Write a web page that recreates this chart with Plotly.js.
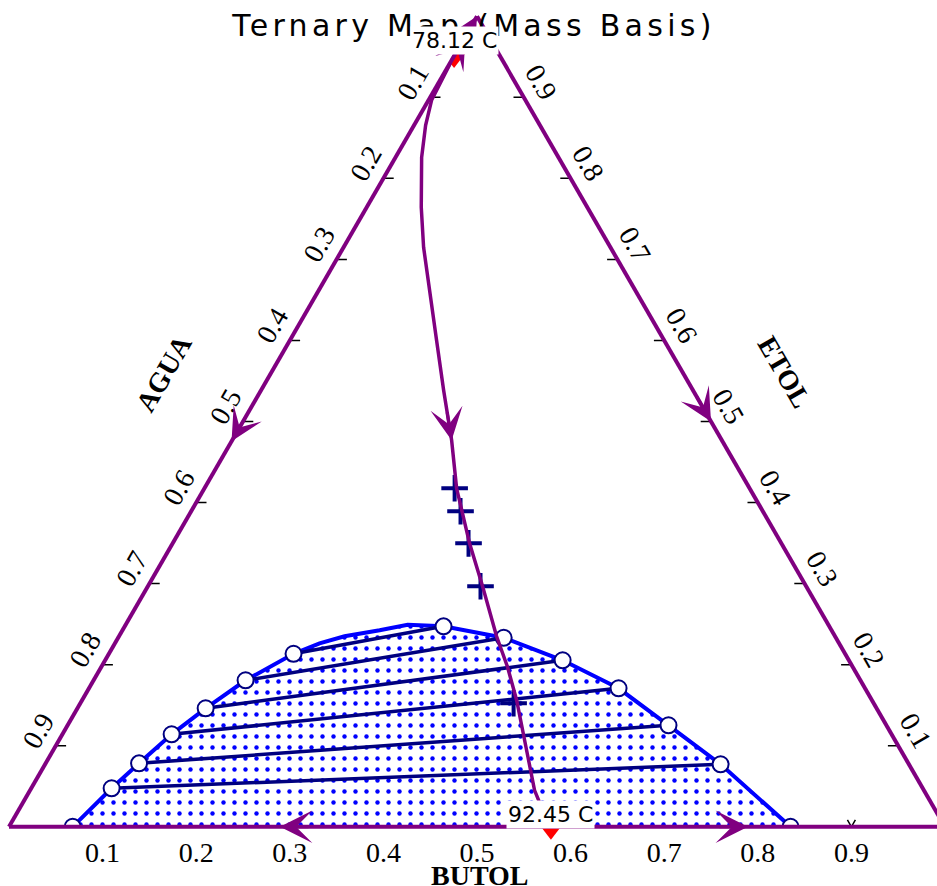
<!DOCTYPE html>
<html><head><meta charset="utf-8">
<script src="https://cdn.plot.ly/plotly-3.0.1.min.js"></script>
<style>html,body{margin:0;padding:0;overflow:hidden;background:#fff}#chart{width:945px;height:886px}</style>
</head><body><div id="chart"></div>
<script>
// Mass fractions. Ternary mapping: a = ETOL (top), b = AGUA (bottom-left), c = BUTOL (bottom-right)
const tickValues = [0.1, 0.2, 0.3, 0.4, 0.5, 0.6, 0.7, 0.8, 0.9];
const tickText = ["0.1", "0.2", "0.3", "0.4", "0.5", "0.6", "0.7", "0.8", "0.9"];

// LLE envelope: water-rich (left) and butanol-rich (right) tie-line ends
const envLeftETOL  = [0.000, 0.0475, 0.0783, 0.1141, 0.1462, 0.1807, 0.2134];
const envLeftBUTOL = [0.068, 0.0859, 0.0998, 0.1167, 0.1370, 0.1624, 0.1973];
const envRightETOL  = [0.000, 0.0771, 0.1252, 0.1709, 0.2054, 0.2332, 0.2473];
const envRightBUTOL = [0.835, 0.7217, 0.6420, 0.5658, 0.4888, 0.4119, 0.3406];
// envelope points between the last left end and the top end (no markers)
const envTopETOL  = [0.2264, 0.2350, 0.2424, 0.2492];
const envTopBUTOL = [0.2186, 0.2410, 0.2748, 0.3013];

// distillation boundary from 78.12 C azeotrope to 92.45 C azeotrope
const boundaryETOL  = [0.951, 0.8963, 0.8654, 0.8259, 0.7643, 0.7149, 0.6532, 0.6002, 0.5385, 0.4768, 0.4176, 0.3497, 0.2967, 0.2350, 0.1968, 0.1561, 0.0944, 0.0450, 0.0204, 0.000];
const boundaryBUTOL = [0.000, 0.0033, 0.0124, 0.0279, 0.0583, 0.0855, 0.1238, 0.1567, 0.1951, 0.2345, 0.2694, 0.3172, 0.3576, 0.4034, 0.4343, 0.4643, 0.5058, 0.5390, 0.5600, 0.579];
const boundaryArrowIndex = 9;

// "+" points
const plusETOL  = [0.4176, 0.3892, 0.3497, 0.2967, 0.1524];
const plusBUTOL = [0.2673, 0.2878, 0.3161, 0.3554, 0.4629];

// azeotropes
const azeoLabels = ["78.12 C", "92.45 C"];
const azeoETOL  = [0.951, 0.000];
const azeoBUTOL = [0.000, 0.579];

// edge residue-curve segments (from -> to), arrows at midpoints
const segFromETOL  = [0.951, 0.951, 1.0, 0.0, 0.0];
const segFromBUTOL = [0.0,   0.0,   0.0, 0.579, 0.579];
const segToETOL    = [1.0,   0.0,   0.0, 0.0, 0.0];
const segToBUTOL   = [0.0,   0.0,   1.0, 0.0, 1.0];

const PURPLE = '#800080', NAVY = '#000080', BLUE = '#0000ff';
const agua = (e, c) => e.map((v, i) => (v === null ? null : 1 - v - c[i]));

// geometry: plot area exactly holds the equilateral triangle; an invisible
// cartesian overlay (x,y in [0,1]) shares the same area for the patterned fill
const PLOT_W = 936, PLOT_H = 811, TRI_H = PLOT_W * Math.sqrt(3) / 2;
function toPaper(e, c) { return {x: c + e / 2, y: ((PLOT_H - TRI_H) / 2 + e * TRI_H) / PLOT_H}; }
function arrowAnn(tipE, tipC, fromE, fromC, len, color, width, size) {
  const p = toPaper(tipE, tipC), q = toPaper(fromE, fromC);
  let dx = (q.x - p.x) * PLOT_W, dy = -(q.y - p.y) * PLOT_H;
  const d = Math.hypot(dx, dy); dx = dx / d * len; dy = dy / d * len;
  return {xref: 'paper', yref: 'paper', x: p.x, y: p.y, ax: dx, ay: dy, axref: 'pixel', ayref: 'pixel',
          text: '', showarrow: true, arrowhead: 3, arrowsize: size, arrowwidth: width, arrowcolor: color, standoff: 0};
}

// tick marks (left and right edges, horizontal, pointing inward)
const TD = 0.011;
const tkA = [], tkB = [], tkC = [];
tickValues.forEach(t => {
  tkA.push(1 - t, 1 - t, null); tkB.push(t, t - TD, null); tkC.push(0, TD, null);
});
tickValues.forEach(v => {
  tkA.push(v, v, null); tkB.push(0, TD, null); tkC.push(1 - v, 1 - v - TD, null);
});
// bottom ticks (two short arms), drawn under the patterned fill
const BD = 0.0085;
const btX = [], btY = [];
tickValues.forEach(t => {
  const p0 = toPaper(0, t), p1 = toPaper(BD, t - BD), p2 = toPaper(BD, t);
  btX.push(p1.x, p0.x, p2.x, null); btY.push(p1.y, p0.y, p2.y, null);
});

// envelope polygon
const envE = [...envLeftETOL, ...envTopETOL, ...envRightETOL.slice().reverse()];
const envC = [...envLeftBUTOL, ...envTopBUTOL, ...envRightBUTOL.slice().reverse()];
const envXY = envE.map((e, i) => toPaper(e, envC[i]));

// tie lines
const tieA = [], tieB = [], tieC = [];
envLeftETOL.forEach((e, i) => {
  tieA.push(e, envRightETOL[i], null);
  tieC.push(envLeftBUTOL[i], envRightBUTOL[i], null);
  tieB.push(1 - e - envLeftBUTOL[i], 1 - envRightETOL[i] - envRightBUTOL[i], null);
});

const mkE = [...envLeftETOL, ...envRightETOL];
const mkC = [...envLeftBUTOL, ...envRightBUTOL];

const traces = [
  {type: 'scatter', mode: 'lines', x: btX, y: btY, line: {color: 'black', width: 1.5}, hoverinfo: 'skip'},
  {type: 'scatter', mode: 'none', x: envXY.map(p => p.x), y: envXY.map(p => p.y), fill: 'toself',
   fillcolor: 'white', fillpattern: {shape: '.', fgcolor: BLUE, bgcolor: 'white', size: 11, solidity: 0.13}},
  {type: 'scatterternary', mode: 'lines', a: tkA, b: tkB, c: tkC, line: {color: 'black', width: 1.5}, hoverinfo: 'skip'},
  {type: 'scatterternary', mode: 'lines', a: envE, b: agua(envE, envC), c: envC, line: {color: BLUE, width: 4}},
  {type: 'scatterternary', mode: 'lines', a: tieA, b: tieB, c: tieC, line: {color: NAVY, width: 3.5}},
  {type: 'scatterternary', mode: 'markers', a: mkE, b: agua(mkE, mkC), c: mkC,
   marker: {symbol: 'circle', size: 16, color: 'white', line: {color: NAVY, width: 2}}},
  {type: 'scatterternary', mode: 'markers', a: plusETOL, b: agua(plusETOL, plusBUTOL), c: plusBUTOL,
   marker: {symbol: 'cross-thin', size: 19, line: {color: NAVY, width: 4}}},
  {type: 'scatterternary', mode: 'lines', a: boundaryETOL, b: agua(boundaryETOL, boundaryBUTOL), c: boundaryBUTOL,
   line: {color: PURPLE, width: 3.5}},
  {type: 'scatterternary', mode: 'markers', a: [azeoETOL[0]], b: [1 - azeoETOL[0] - azeoBUTOL[0]], c: [azeoBUTOL[0]],
   marker: {symbol: 'triangle-down', size: 24, color: 'red'}},
  {type: 'scatterternary', mode: 'markers', cliponaxis: false, a: [azeoETOL[1]], b: [1 - azeoETOL[1] - azeoBUTOL[1]], c: [azeoBUTOL[1]],
   marker: {symbol: 'triangle-down', size: 26, color: 'red'}}
];

const tickFont = {family: 'Liberation Serif, Times New Roman, serif', size: 28, color: 'black'};
const axisCommon = {
  showgrid: false, showline: true, linecolor: PURPLE, linewidth: 4, ticks: '',
  tickmode: 'array', tickvals: tickValues.map(t => 1 - t), ticktext: tickText,
  tickfont: tickFont, title: {text: ''}
};

const annotations = [];
segFromETOL.forEach((fe, i) => {
  const me = (fe + segToETOL[i]) / 2, mc = (segFromBUTOL[i] + segToBUTOL[i]) / 2;
  annotations.push(arrowAnn(me, mc, fe, segFromBUTOL[i], 30, PURPLE, 3, 1.8));
});
annotations.push(arrowAnn(1.0, 0.0, 0.951, 0.0, 20, PURPLE, 3, 1.6));
const k = boundaryArrowIndex;
annotations.push(arrowAnn(boundaryETOL[k], boundaryBUTOL[k], boundaryETOL[k - 1], boundaryBUTOL[k - 1], 30, PURPLE, 3, 1.8));
azeoLabels.forEach((t, i) => {
  const p = toPaper(azeoETOL[i], azeoBUTOL[i]);
  annotations.push({xref: 'paper', yref: 'paper', x: p.x, y: p.y, yshift: i === 0 ? 15 : 12, text: t, showarrow: false,
    bgcolor: 'white', borderpad: 1, xanchor: 'center', yanchor: 'middle',
    font: {family: 'DejaVu Sans', size: 22, color: 'black'}});
});
const titleFont = {family: 'Liberation Serif', size: 28, color: 'black'};
const axTitle = {xref: 'paper', yref: 'paper', showarrow: false, xanchor: 'center', yanchor: 'middle', font: titleFont};
annotations.push(Object.assign({}, axTitle, {x: 0.1656, y: 0.5586, text: '<b>AGUA</b>', textangle: -60}));
annotations.push(Object.assign({}, axTitle, {x: 0.829, y: 0.561, text: '<b>ETOL</b>', textangle: 60}));
annotations.push(Object.assign({}, axTitle, {x: 0.503, y: -0.0604, text: '<b>BUTOL</b>'}));

const layout = {
  width: 945, height: 886,
  margin: {l: 9, r: 0, t: 16, b: 59, pad: 0},
  font: {family: 'Liberation Serif', size: 24, color: 'black'},
  paper_bgcolor: 'white', plot_bgcolor: 'rgba(0,0,0,0)', showlegend: false, hovermode: false,
  title: {text: '<span style="letter-spacing:4.3px">Ternary Map (Mass Basis)</span>',
          font: {family: 'DejaVu Sans', size: 30, color: 'black'},
          xref: 'container', yref: 'container', x: 474 / 945, xanchor: 'center', y: 1 - 25 / 886, yanchor: 'middle'},
  xaxis: {range: [0, 1], visible: false, fixedrange: true},
  yaxis: {range: [0, 1], visible: false, fixedrange: true},
  ternary: {
    sum: 1, bgcolor: 'rgba(0,0,0,0)', domain: {x: [0, 1], y: [0, 1]},
    aaxis: Object.assign({}, axisCommon, {tickangle: -60}),
    baxis: Object.assign({}, axisCommon, {tickangle: 0}),
    caxis: Object.assign({}, axisCommon, {tickangle: 60})
  },
  annotations: annotations
};

Plotly.newPlot('chart', traces, layout, {staticPlot: true, displayModeBar: false});
</script></body></html>
